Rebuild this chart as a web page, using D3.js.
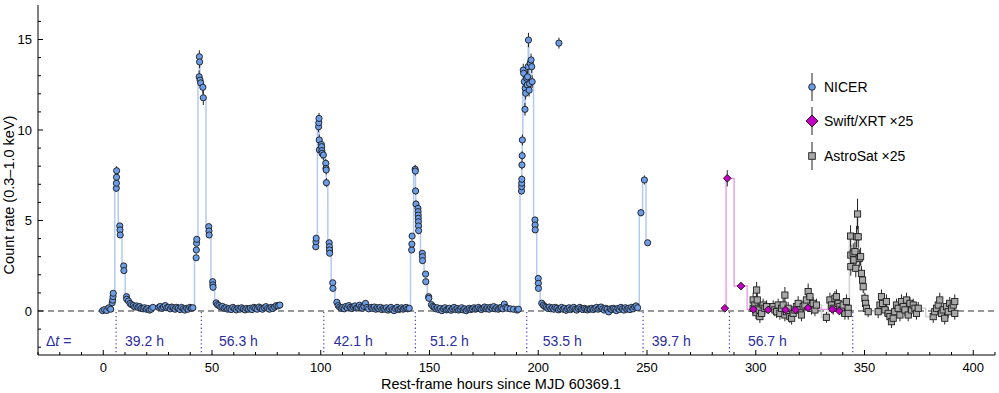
<!DOCTYPE html>
<html>
<head>
<meta charset="utf-8">
<script src="https://cdn.jsdelivr.net/npm/d3@7"></script>
<style>
body { margin: 0; background: #fff; }
text { font-family: "Liberation Sans", Arial, sans-serif; }
</style>
</head>
<body>
<div id="area"></div>
<script>
// NICER: [rest-frame hours, count rate, error]
var nicerData = [
  [-0.3,0.02],[0.6,0.08],[1.6,0.03],[2.6,0.18],[3.4,0.1],[4.1,0.45],[4.3,0.6],[4.5,0.8],[4.6,0.98,0.1],
  [6.0,6.78,0.2],[6.05,7.06,0.2],[6.1,7.39,0.2],[6.15,7.75,0.25],
  [7.6,4.7,0.15],[7.7,4.48,0.15],[7.8,4.2,0.15],[9.4,2.49,0.12],[9.5,2.23,0.12],[10.7,0.79,0.08],[10.8,0.65,0.08],
  [11.6,0.55],[12.3,0.42],[13.0,0.35],[13.8,0.3],[14.5,0.22],[15.3,0.28],[16.0,0.2],[16.8,0.24],[17.5,0.15],
  [18.3,0.12],[19.0,0.18],[19.8,0.1],[20.5,0.14],[21.3,0.05],[22.0,0.1],[22.8,0.2],
  [25.5,0.2],[26.2,0.25],[27.0,0.15],[27.7,0.22],[28.5,0.3],[29.2,0.18],[30.0,0.2],[30.8,0.12],[31.5,0.22],
  [32.3,0.18],[33.0,0.1],[33.8,0.2],[34.5,0.15],[35.3,0.08],[36.0,0.2],[36.8,0.12],[37.5,0.05],[38.3,0.15],
  [39.0,0.1],[39.8,0.2],[40.5,0.15],[41.2,0.18],
  [42.7,2.94,0.15],[42.8,3.37,0.15],[42.9,3.74,0.15],[43.0,3.96,0.15],
  [44.1,12.94,0.35],[44.2,14.05,0.35],[44.3,13.76,0.35],[44.5,12.76,0.35],[44.8,12.6,0.35],[45.8,12.36,0.35],[46.0,11.78,0.4],
  [48.5,4.66,0.15],[48.6,4.42,0.15],[48.7,4.2,0.15],[50.3,1.62,0.1],[50.4,1.44,0.1],[50.5,1.31,0.1],
  [51.9,0.45],[52.5,0.35],[53.2,0.3],[54.0,0.22],[54.8,0.25],[55.6,0.15],[56.4,0.18],[57.2,0.1],[58.0,0.14],
  [58.8,0.08],[59.6,0.2],[60.4,0.12],[61.2,0.06],[62.0,0.15],[62.8,0.1],[63.6,0.18],[64.4,0.12],[65.2,0.06],
  [66.0,0.14],[66.8,0.1],[67.6,0.15],[68.4,0.08],[69.2,0.2],[70.0,0.15],[70.8,0.1],[71.6,0.22],[72.4,0.16],
  [73.2,0.1],[74.0,0.18],[74.8,0.24],[75.6,0.15],[76.4,0.1],[77.2,0.2],[78.0,0.14],[78.8,0.22],[79.6,0.3],
  [80.4,0.28],[81.2,0.33],
  [97.7,3.55,0.15],[97.8,3.83,0.15],[97.9,4.02,0.15],
  [99.0,10.18,0.3],[99.1,10.4,0.3],[99.2,10.64,0.3],[99.3,9.45,0.3],[99.4,8.9,0.3],
  [100.3,9.2,0.3],[100.4,9.08,0.3],[100.5,8.86,0.3],[100.6,8.71,0.3],[101.2,8.62,0.3],
  [102.3,8.16,0.25],[102.4,7.88,0.25],[102.5,7.79,0.25],[102.6,7.09,0.25],
  [103.9,3.77,0.15],[104.0,3.55,0.15],[104.05,3.37,0.15],[104.1,3.19,0.15],[105.5,1.56,0.1],[105.6,1.25,0.1],
  [107.4,0.48],[108.0,0.3],[108.7,0.22],[109.4,0.15],[110.1,0.2],[110.8,0.12],[111.5,0.25],[112.2,0.18],
  [112.9,0.3],[113.6,0.2],[114.3,0.14],[115.0,0.22],[115.7,0.28],[116.4,0.16],[117.1,0.2],[117.8,0.32],
  [118.5,0.22],[119.2,0.15],[119.9,0.25],[120.6,0.42],[121.3,0.2],[122.0,0.12],[123.2,0.2],[123.9,0.15],
  [124.6,0.22],[125.3,0.1],[126.0,0.18],[126.7,0.12],[127.4,0.2],[128.1,0.08],[128.8,0.15],[129.5,0.1],
  [130.2,0.18],[130.9,0.05],[131.6,0.12],[132.3,0.2],[133.0,0.08],[133.7,0.02],[134.4,0.14],[135.1,0.2],
  [135.8,0.08],[136.5,0.12],[137.2,0.18],[137.9,0.1],[138.6,0.15],[139.3,0.2],[140.0,0.12],[140.7,0.15],
  [141.8,3.37,0.15],[141.9,3.7,0.15],[142.0,4.14,0.15],
  [143.4,7.83,0.25],[143.5,7.73,0.25],[143.6,6.63,0.2],[143.8,5.91,0.2],
  [144.7,5.67,0.2],[144.75,5.49,0.2],[144.8,5.3,0.2],[144.85,5.12,0.2],[144.9,4.93,0.2],[144.95,4.7,0.2],[145.0,4.44,0.2],
  [146.7,3.19,0.15],[146.75,3.0,0.15],[146.8,2.78,0.15],[148.2,2.04,0.1],[148.3,1.62,0.1],[149.6,0.79,0.08],[149.7,0.7,0.08],
  [150.9,0.35],[151.5,0.25],[152.2,0.2],[152.9,0.12],[153.6,0.18],[154.3,0.08],[155.0,0.14],[155.7,0.02],
  [156.4,0.12],[157.1,0.18],[157.8,0.06],[158.5,0.1],[159.2,0.15],[159.9,0.04],[160.6,0.12],[161.3,0.2],
  [162.0,0.08],[162.7,0.14],[163.4,0.05],[164.1,0.1],[164.8,0.18],[165.5,0.06],[166.2,0.12],[166.9,0.02],
  [167.6,0.1],[168.3,0.15],[169.0,0.08],[169.7,0.12],[170.4,0.18],[171.1,0.1],[171.8,0.14],[172.5,0.2],
  [173.2,0.12],[173.9,0.08],[174.6,0.16],[175.3,0.22],[176.0,0.12],[176.7,0.18],[177.4,0.1],[178.1,0.2],
  [178.8,0.15],[179.5,0.24],[180.2,0.12],[180.9,0.18],[181.6,0.1],[182.3,0.16],[183.0,0.2],[183.7,0.12],
  [184.4,0.38],[185.1,0.2],[185.8,0.15],[187.2,0.12],[188.6,0.1],[190.3,0.05],[190.9,0.1],
  [192.3,6.63,0.2],[192.35,6.87,0.2],[192.4,7.06,0.2],[192.45,7.28,0.2],[192.5,8.07,0.25],[192.6,8.58,0.25],[192.7,9.45,0.3],
  [193.1,13.31,0.35],[193.3,13.13,0.35],[193.6,12.67,0.35],[193.9,11.14,0.35],[194.0,12.3,0.35],[194.2,12.03,0.35],
  [194.6,12.86,0.35],[194.9,12.49,0.35],[195.1,12.94,0.35],[195.3,13.5,0.35],[195.5,14.97,0.4],[195.8,12.2,0.35],
  [196.0,12.56,0.35],[196.3,13.68,0.35],[196.7,13.87,0.35],[197.0,13.5,0.35],[197.2,12.67,0.35],
  [198.5,5.03,0.15],[198.55,4.75,0.15],[198.6,4.48,0.15],[200.0,1.8,0.1],[200.05,1.53,0.1],[200.1,1.25,0.1],
  [201.6,0.43],[202.3,0.32],[203.0,0.25],[203.7,0.2],[204.4,0.14],[205.1,0.22],[205.8,0.12],[206.5,0.18],
  [207.2,0.1],[207.9,0.2],[208.6,0.15],[209.3,0.06],[210.0,0.12],[210.7,0.2],[211.4,0.1],[212.1,0.15],
  [212.8,0.04],[213.5,0.12],[214.2,0.18],[214.9,0.08],[215.6,0.14],[216.3,0.2],[217.0,0.1],[217.7,0.05],
  [218.4,0.14],[219.1,0.2],[219.8,0.12],[220.5,0.08],[221.2,0.15],[221.9,0.1],[222.6,0.06],[223.3,0.12],
  [224.0,0.1],[224.7,0.15],[225.4,0.08],[226.1,0.14],[226.8,0.2],[227.5,0.1],[228.2,0.16],[228.9,0.22],
  [229.6,0.12],[230.3,0.05],[231.0,0.15],[231.7,0.1],[232.4,-0.05],[233.1,0.12],[233.8,0.08],[234.5,0.15],
  [235.2,0.1],[235.9,0.02],[236.6,0.14],[237.3,0.08],[238.0,0.2],[238.7,0.12],[239.4,0.05],[240.1,0.18],
  [240.8,0.1],[241.5,0.15],[242.2,0.08],[242.9,0.2],[243.6,0.12],[244.3,0.22],[245.0,0.28],[245.7,0.18],
  [247.2,5.43,0.2],[248.8,7.24,0.25],[250.3,3.77,0.15]
];
// isolated NICER point, not part of the connected light curve
var nicerOutlier = [[209.5,14.8,0.3]];

// Swift/XRT x25: [hours, rate, error]
var swiftData = [
  [285.8,0.15,0.1],[286.9,7.33,0.45],[293.2,1.38,0.15],[298.9,0.09,0.1],[305.7,0.06,0.1],
  [313.7,0.06,0.1],[318.3,0.06,0.1],[324.0,0.17,0.1],[335.2,0.09,0.1],[338.4,0.0,0.1]
];

// AstroSat x25: [hours, rate, error]
var astroData = [
  [298.8,0.61,0.4],[298.8,0.15,0.35],[299.6,0.33,0.35],[300.1,-0.09,0.35],[300.4,1.16,0.45],[300.7,0.61,0.4],
  [301.1,0.15,0.35],[301.6,0.06,0.35],[301.9,-0.31,0.35],[302.7,-0.13,0.35],[303.4,0.33,0.35],[304.2,0.15,0.35],[305.0,0.24,0.35],
  [308.0,0.24,0.35],[308.8,0.06,0.35],[309.6,-0.04,0.35],[310.3,0.33,0.35],[311.1,-0.13,0.35],[311.9,0.15,0.35],
  [312.6,0.33,0.35],[313.4,0.88,0.45],[313.4,-0.22,0.35],[314.2,-0.04,0.35],[314.9,0.15,0.35],[315.7,-0.31,0.35],
  [316.5,-0.4,0.35],[317.2,-0.13,0.35],[318.0,0.06,0.35],[318.7,0.24,0.35],[319.5,0.42,0.4],[320.3,0.06,0.35],
  [321.0,-0.22,0.35],[321.8,0.24,0.35],[322.6,0.33,0.35],[323.3,0.61,0.4],[324.1,1.07,0.45],[324.9,0.79,0.4],
  [325.6,0.15,0.35],[326.4,0.42,0.35],[327.2,0.06,0.35],[327.9,0.33,0.35],[332.5,-0.35,0.3],
  [334.1,0.61,0.4],[334.8,0.33,0.35],[335.6,0.15,0.35],[336.4,0.7,0.4],[337.1,0.79,0.4],[337.9,0.42,0.35],
  [338.7,0.24,0.35],[339.4,0.06,0.35],[340.2,0.33,0.35],[341.0,-0.13,0.35],[341.7,0.52,0.4],[342.5,0.15,0.35],[342.5,-0.13,0.35],
  [343.6,4.14,0.6],[343.7,3.09,0.55],[343.7,2.45,0.5],[344.8,3.19,0.55],[345.1,2.82,0.5],[345.6,3.28,0.55],
  [346.0,2.36,0.5],[346.3,4.1,0.6],[346.8,5.36,0.85],[347.1,4.1,0.6],[347.6,2.91,0.5],[348.2,3.0,0.5],
  [348.6,2.08,0.4],[349.1,1.71,0.4],[349.4,1.34,0.35],[350.2,0.7,0.3],[350.5,0.42,0.3],[350.9,0.15,0.3],[351.7,-0.04,0.3],
  [356.3,-0.04,0.35],[357.1,0.33,0.35],[357.8,0.79,0.4],[358.3,0.42,0.35],[359.4,0.06,0.35],[360.1,0.52,0.4],
  [360.9,-0.13,0.35],[361.7,-0.31,0.35],[362.4,-0.59,0.35],[363.2,-0.4,0.35],[363.9,-0.04,0.35],[364.7,0.33,0.35],
  [365.5,0.15,0.35],[366.3,-0.22,0.35],[367.0,0.52,0.4],[367.8,0.24,0.35],[368.6,0.06,0.35],[369.3,0.61,0.4],
  [370.1,-0.22,0.35],[370.9,0.42,0.35],[371.6,0.06,0.35],[372.4,0.33,0.35],[373.2,0.15,0.35],[373.9,-0.13,0.35],[374.7,0.15,0.35],
  [381.6,-0.31,0.35],[382.3,-0.04,0.35],[383.1,0.15,0.35],[383.9,0.33,0.35],[384.6,0.61,0.4],[385.4,-0.13,0.35],
  [386.2,0.06,0.35],[386.9,-0.4,0.35],[387.7,0.24,0.35],[388.5,-0.04,0.35],[389.2,0.42,0.35],[390.0,0.15,0.35],
  [390.8,0.33,0.35],[391.5,-0.13,0.35],[391.5,0.52,0.4]
];

// QPE peak times and recurrence labels
var peakHours = [5.9, 45.1, 101.4, 143.5, 194.7, 248.2, 287.9, 344.6];
var dtLabels = ['39.2 h', '56.3 h', '42.1 h', '51.2 h', '53.5 h', '39.7 h', '56.7 h'];
var dtLabelHours = [10, 53.2, 106, 150.2, 202.1, 252.2, 296.4];

var xTicks = [0, 50, 100, 150, 200, 250, 300, 350, 400];
var yTicks = [0, 5, 10, 15];

var width = 999, height = 393;
var nicerErrDefault = 0.07;

var svg = d3.select('#area').append('svg')
    .attr('width', width)
    .attr('height', height);

var x = d3.scaleLinear().domain([-30, 410]).range([38, 995]);
var y = d3.scaleLinear().domain([-2.431, 16.906]).range([355, 5]);

var blue = '#6c9de8', dtColor = '#2b2ba0';

// zero line
svg.append('line')
    .attr('x1', x(-30)).attr('x2', x(410))
    .attr('y1', y(0)).attr('y2', y(0))
    .attr('stroke', '#333').attr('stroke-width', 1)
    .attr('stroke-dasharray', '6,4');

// dotted peak markers + labels
svg.selectAll('.peak')
    .data(peakHours)
  .enter().append('line')
    .attr('class', 'peak')
    .attr('x1', function(d) { return x(d); })
    .attr('x2', function(d) { return x(d); })
    .attr('y1', y(0) + 1).attr('y2', y.range()[0])
    .attr('stroke', '#4040c0').attr('stroke-width', 1.2)
    .attr('stroke-dasharray', '1.3,2.6');

var dtText = svg.append('text')
    .attr('x', 46).attr('y', 346)
    .attr('fill', dtColor).style('font-size', '14px');
dtText.append('tspan').text('\u0394');
dtText.append('tspan').style('font-style', 'italic').text('t');
dtText.append('tspan').text(' =');

svg.selectAll('.dt')
    .data(dtLabels)
  .enter().append('text')
    .attr('class', 'dt')
    .attr('x', function(d, i) { return x(dtLabelHours[i]); })
    .attr('y', 346)
    .attr('fill', dtColor).style('font-size', '14px')
    .text(function(d) { return d; });

// step light curves
var step = d3.line()
    .x(function(d) { return x(d[0]); })
    .y(function(d) { return y(d[1]); })
    .curve(d3.curveStep);

function byTime(a, b) { return a[0] - b[0]; }

// split NICER into observing blocks at long gaps
var nicerSorted = nicerData.slice().sort(byTime);
var blocks = [[]];
nicerSorted.forEach(function(d, i) {
  if (i > 0 && d[0] - nicerSorted[i - 1][0] > 10) blocks.push([]);
  blocks[blocks.length - 1].push(d);
});

svg.selectAll('.nline')
    .data(blocks)
  .enter().append('path')
    .attr('class', 'nline')
    .attr('d', step)
    .attr('fill', 'none').attr('stroke', '#b3cbf2').attr('stroke-width', 1.5);

svg.append('path')
    .datum(astroData.slice().sort(byTime))
    .attr('d', step)
    .attr('fill', 'none').attr('stroke', '#d4d4d4').attr('stroke-width', 1.6);

svg.append('path')
    .datum(swiftData.slice().sort(byTime))
    .attr('d', step)
    .attr('fill', 'none').attr('stroke', '#e895e8').attr('stroke-width', 1.3);

// error bars
function errBars(cls, data, def) {
  svg.selectAll('.' + cls)
      .data(data)
    .enter().append('line')
      .attr('class', cls)
      .attr('x1', function(d) { return x(d[0]); })
      .attr('x2', function(d) { return x(d[0]); })
      .attr('y1', function(d) { return y(d[1] - (d[2] || def)); })
      .attr('y2', function(d) { return y(d[1] + (d[2] || def)); })
      .attr('stroke', '#222').attr('stroke-width', 1);
}
errBars('ne', nicerData.concat(nicerOutlier), nicerErrDefault);
errBars('ae', astroData, 0.35);
errBars('se', swiftData, 0.1);

// markers
svg.selectAll('.astro')
    .data(astroData)
  .enter().append('rect')
    .attr('class', 'astro')
    .attr('x', function(d) { return x(d[0]) - 3.1; })
    .attr('y', function(d) { return y(d[1]) - 3.1; })
    .attr('width', 6.2).attr('height', 6.2)
    .attr('fill', '#a8a8a8').attr('stroke', '#1e1e1e').attr('stroke-width', 0.9);

svg.selectAll('.nicer')
    .data(nicerData.concat(nicerOutlier))
  .enter().append('circle')
    .attr('class', 'nicer')
    .attr('cx', function(d) { return x(d[0]); })
    .attr('cy', function(d) { return y(d[1]); })
    .attr('r', 3.1)
    .attr('fill', blue).attr('stroke', '#1a1a1a').attr('stroke-width', 0.9);

var diamond = d3.symbol().type(d3.symbolSquare).size(30);
svg.selectAll('.swift')
    .data(swiftData)
  .enter().append('path')
    .attr('class', 'swift')
    .attr('d', diamond)
    .attr('transform', function(d) { return 'translate(' + x(d[0]) + ',' + y(d[1]) + ') rotate(45)'; })
    .attr('fill', '#c200c2').attr('stroke', '#1a1a1a').attr('stroke-width', 0.9);

// axes
var yAxisG = svg.append('g').attr('transform', 'translate(38,0)');
yAxisG.append('line')
    .attr('x1', 0).attr('x2', 0).attr('y1', y.range()[1]).attr('y2', y.range()[0])
    .attr('stroke', '#000').attr('stroke-width', 1);
yAxisG.selectAll('.ymin')
    .data(d3.range(-2, 17))
  .enter().append('line')
    .attr('x1', 0)
    .attr('x2', function(d) { return d % 5 === 0 ? 5 : 3; })
    .attr('y1', function(d) { return y(d); })
    .attr('y2', function(d) { return y(d); })
    .attr('stroke', '#000').attr('stroke-width', 1);
yAxisG.selectAll('.ylab')
    .data(yTicks)
  .enter().append('text')
    .attr('x', -6)
    .attr('y', function(d) { return y(d); })
    .attr('dy', '0.35em')
    .attr('text-anchor', 'end')
    .style('font-size', '13px')
    .text(function(d) { return d; });

var xAxisG = svg.append('g').attr('transform', 'translate(0,355)');
xAxisG.append('line')
    .attr('x1', x.range()[0]).attr('x2', x.range()[1]).attr('y1', 0).attr('y2', 0)
    .attr('stroke', '#000').attr('stroke-width', 1);
xAxisG.selectAll('.xmin')
    .data(d3.range(-30, 411, 10))
  .enter().append('line')
    .attr('x1', function(d) { return x(d); })
    .attr('x2', function(d) { return x(d); })
    .attr('y1', 0)
    .attr('y2', function(d) { return d % 50 === 0 ? -5 : -3; })
    .attr('stroke', '#000').attr('stroke-width', 1);
xAxisG.selectAll('.xlab')
    .data(xTicks)
  .enter().append('text')
    .attr('x', function(d) { return x(d); })
    .attr('y', 17)
    .attr('text-anchor', 'middle')
    .style('font-size', '13px')
    .text(function(d) { return d; });

svg.append('text')
    .attr('x', 501).attr('y', 389)
    .attr('text-anchor', 'middle')
    .style('font-size', '14.5px')
    .text('Rest-frame hours since MJD 60369.1');

svg.append('text')
    .attr('transform', 'translate(13.5,195) rotate(-90)')
    .attr('text-anchor', 'middle')
    .style('font-size', '14.5px')
    .text('Count rate (0.3\u20131.0 keV)');

// legend
var legend = svg.append('g').attr('transform', 'translate(812,0)');
var legRows = [
  {y: 87, label: 'NICER'},
  {y: 121, label: 'Swift/XRT \u00d725'},
  {y: 156, label: 'AstroSat \u00d725'}
];
legend.selectAll('.lbar')
    .data(legRows)
  .enter().append('line')
    .attr('x1', 0).attr('x2', 0)
    .attr('y1', function(d) { return d.y - 14; })
    .attr('y2', function(d) { return d.y + 14; })
    .attr('stroke', '#222').attr('stroke-width', 1);
legend.append('circle')
    .attr('cx', 0).attr('cy', legRows[0].y).attr('r', 3.3)
    .attr('fill', blue).attr('stroke', '#1a1a1a').attr('stroke-width', 0.9);
legend.append('path')
    .attr('d', d3.symbol().type(d3.symbolSquare).size(72))
    .attr('transform', 'translate(0,' + legRows[1].y + ') rotate(45)')
    .attr('fill', '#c200c2').attr('stroke', '#1a1a1a').attr('stroke-width', 0.9);
legend.append('rect')
    .attr('x', -3.3).attr('y', legRows[2].y - 3.3).attr('width', 6.6).attr('height', 6.6)
    .attr('fill', '#a8a8a8').attr('stroke', '#1e1e1e').attr('stroke-width', 0.9);
legend.selectAll('.ltext')
    .data(legRows)
  .enter().append('text')
    .attr('x', 12)
    .attr('y', function(d) { return d.y; })
    .attr('dy', '0.35em')
    .style('font-size', '14px')
    .text(function(d) { return d.label; });
</script>
</body>
</html>
